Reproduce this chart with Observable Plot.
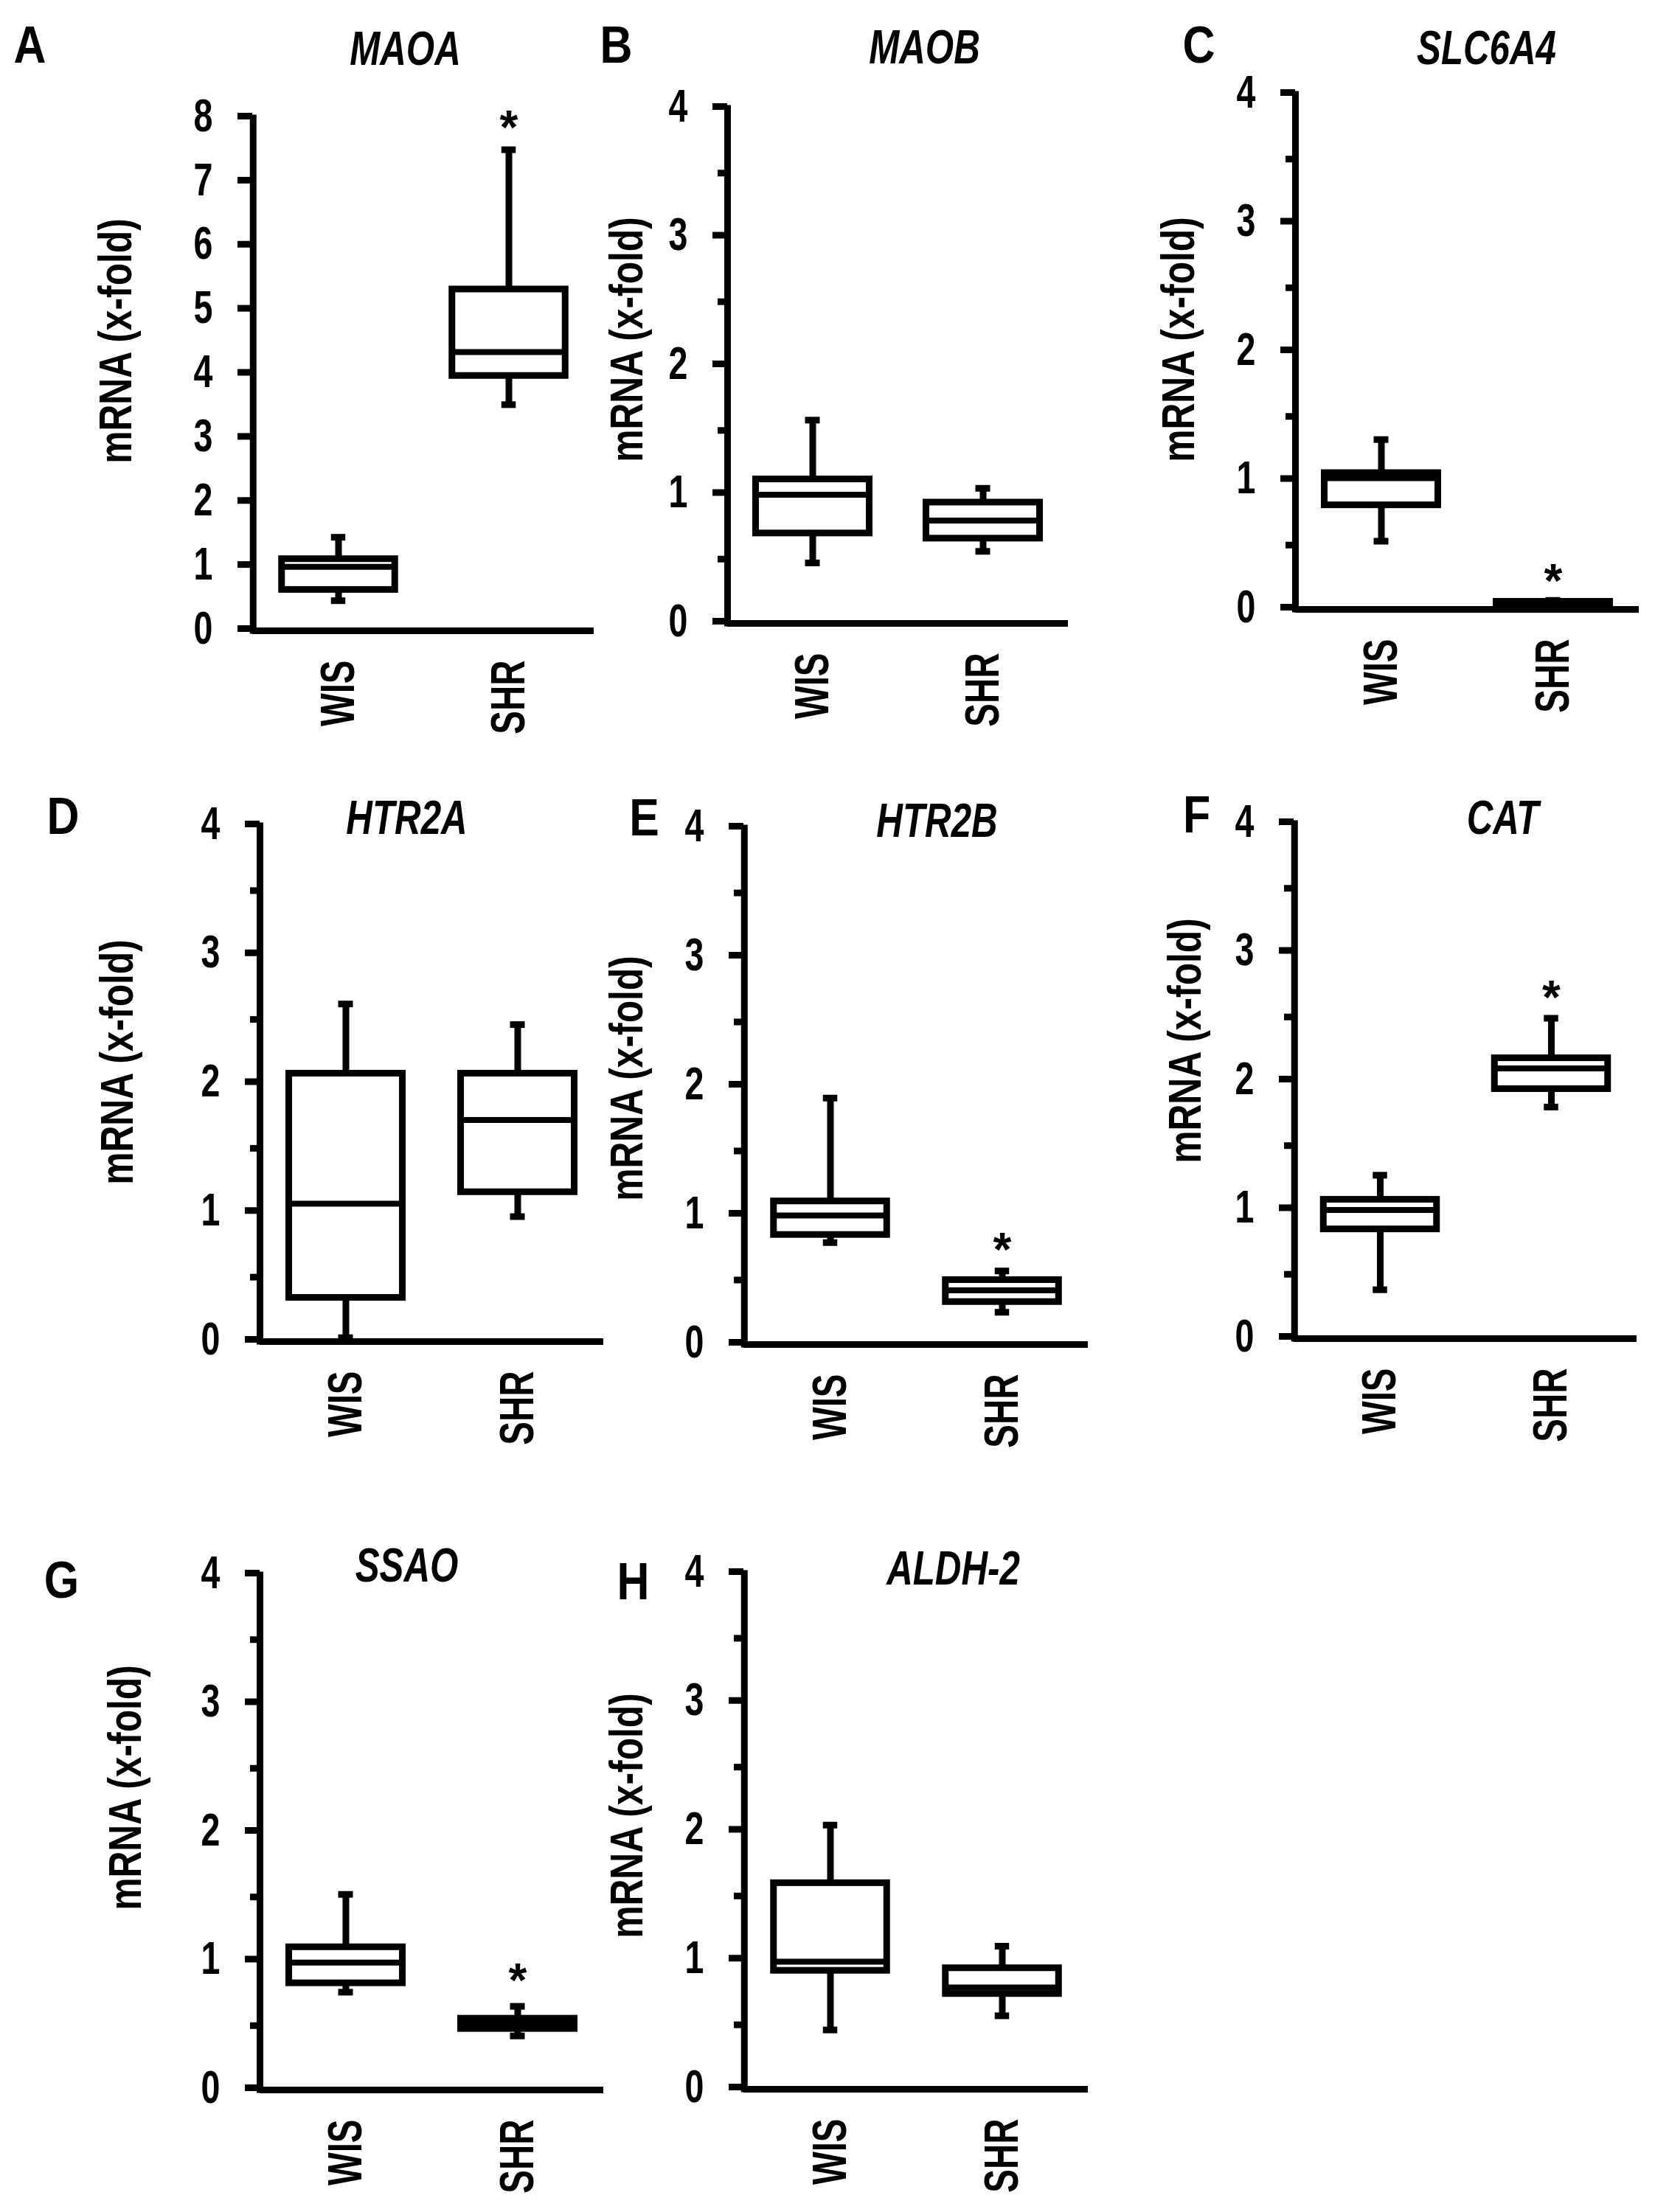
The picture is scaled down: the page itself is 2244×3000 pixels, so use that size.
<!DOCTYPE html>
<html>
<head>
<meta charset="utf-8">
<script src="https://cdn.jsdelivr.net/npm/d3@7"></script>
<script src="https://cdn.jsdelivr.net/npm/@observablehq/plot@0.6"></script>
<style>
html, body { margin: 0; padding: 0; background: #fff; }
#fig { position: relative; width: 2244px; height: 3000px; background: #fff; overflow: hidden; }
#fig > div { position: absolute; }
</style>
</head>
<body>
<div id="fig"></div>
<script>
// ---- data ----
const genes   = ["MAOA", "MAOB", "SLC6A4", "HTR2A", "HTR2B", "CAT", "SSAO", "ALDH-2"];
const letters = ["A", "B", "C", "D", "E", "F", "G", "H"];
const groups  = ["WIS", "SHR"];
const yMax    = [8, 4, 4, 4, 4, 4, 4, 4];
const yTitle  = "mRNA (x-fold)";

const wisMin = [0.47, 0.47, 0.53, 0.03, 0.79, 0.38, 0.76, 0.46];
const wisQ1  = [0.64, 0.70, 0.81, 0.34, 0.85, 0.85, 0.83, 0.92];
const wisMed = [1.00, 1.00, 1.02, 1.07, 1.00, 1.00, 0.99, 0.99];
const wisQ3  = [1.12, 1.12, 1.06, 2.08, 1.11, 1.08, 1.11, 1.60];
const wisMax = [1.46, 1.58, 1.32, 2.62, 1.91, 1.27, 1.52, 2.05];

const shrMin = [3.53, 0.56, 0.03, 0.97, 0.25, 1.80, 0.42, 0.57];
const shrQ1  = [3.98, 0.66, 0.04, 1.16, 0.33, 1.94, 0.475, 0.74];
const shrMed = [4.35, 0.80, 0.05, 1.72, 0.42, 2.10, 0.52, 0.79];
const shrQ3  = [5.33, 0.94, 0.06, 2.08, 0.50, 2.18, 0.555, 0.94];
const shrMax = [7.51, 1.05, 0.07, 2.46, 0.57, 2.49, 0.65, 1.11];

// significance star (value level at which the "*" sits, SHR group)
const starAt = [8.03, null, 0.31, null, 0.82, 2.74, 0.94, null];

// ---- layout (pixels in the page) ----
const layout = [
  {L: 342,  T: 160,  B: 855,  R: 805,  title: [549, 67],    letter: [40, 62],    ylab: [157, 462]},
  {L: 986,  T: 147,  B: 845,  R: 1448, title: [1253, 65],   letter: [835, 62],   ylab: [850, 460]},
  {L: 1756, T: 128,  B: 826,  R: 2222, title: [2015, 66],   letter: [1625, 62],  ylab: [1598, 460]},
  {L: 352,  T: 1120, B: 1819, R: 818,  title: [551, 1110],  letter: [85, 1108],  ylab: [159, 1440]},
  {L: 1008, T: 1123, B: 1823, R: 1475, title: [1270, 1114], letter: [873, 1110], ylab: [850, 1462]},
  {L: 1754, T: 1117, B: 1815, R: 2219, title: [2037, 1110], letter: [1622, 1106],ylab: [1607, 1411]},
  {L: 352,  T: 2136, B: 2834, R: 818,  title: [551, 2124],  letter: [83, 2144],  ylab: [170, 2424]},
  {L: 1008, T: 2134, B: 2833, R: 1475, title: [1292, 2128], letter: [858, 2146], ylab: [850, 2462]}
];

const ML = 340, MT = 140, MR = 30, MB = 220;
const FONT = "'Liberation Sans', Arial, Helvetica, sans-serif";
const LW = 9;

// horizontal condensing of the (narrow) lettering in the figure
const squeeze = {ytick: 0.74, xtick: 0.73, ylab: 0.79, title: 0.77, letter: 0.87};

const fig = document.getElementById("fig");

genes.forEach((gene, i) => {
  const p = layout[i];
  const fw = p.R - p.L, fh = p.B - p.T, bw = fw / groups.length;
  const boxInset = (bw - 154) / 2, capInset = bw / 2 - 10;
  const rows = [
    {group: groups[0], min: wisMin[i], q1: wisQ1[i], med: wisMed[i], q3: wisQ3[i], max: wisMax[i]},
    {group: groups[1], min: shrMin[i], q1: shrQ1[i], med: shrMed[i], q3: shrQ3[i], max: shrMax[i]}
  ];
  const stars = starAt[i] == null ? [] : [{group: groups[1], y: starAt[i]}];
  const majors = d3.range(0, yMax[i] + 0.001, 1);
  const minors = yMax[i] > 4 ? [] : d3.range(0.5, yMax[i], 1);

  const svg = Plot.plot({
    width: fw + ML + MR,
    height: fh + MT + MB,
    marginLeft: ML, marginRight: MR, marginTop: MT, marginBottom: MB,
    style: {background: "none", overflow: "visible", maxWidth: "none", fontFamily: FONT, color: "black"},
    x: {type: "band", domain: groups, padding: 0},
    y: {type: "linear", domain: [0, yMax[i]]},
    marks: [
      // axes
      Plot.axisY({ticks: majors, tickSize: 20, tickPadding: 34, strokeWidth: LW, fontSize: 63, fontWeight: "bold", fontFamily: FONT, tickFormat: d => String(d), label: null, dy: -3}),
      ...(minors.length ? [Plot.axisY({ticks: minors, tickSize: 13, strokeWidth: LW, tickFormat: () => "", label: null})] : []),
      Plot.axisX({tickSize: 0, tickPadding: 40, tickRotate: -90, fontSize: 65, fontWeight: "bold", fontFamily: FONT, label: null}),
      Plot.ruleX([groups[0]], {x: d => d, dx: -bw / 2, strokeWidth: LW, strokeLinecap: "square"}),
      Plot.ruleY([0], {strokeWidth: LW}),
      // whiskers
      Plot.ruleX(rows, {x: "group", y1: "q3", y2: "max", strokeWidth: LW}),
      Plot.ruleX(rows, {x: "group", y1: "min", y2: "q1", strokeWidth: LW}),
      Plot.tickY(rows, {x: "group", y: "max", strokeWidth: LW, insetLeft: capInset, insetRight: capInset}),
      Plot.tickY(rows, {x: "group", y: "min", strokeWidth: LW, insetLeft: capInset, insetRight: capInset}),
      // boxes
      Plot.barY(rows, {x: "group", y1: "q1", y2: "q3", fill: "white", stroke: "black", strokeWidth: LW, insetLeft: boxInset, insetRight: boxInset}),
      Plot.tickY(rows, {x: "group", y: "med", strokeWidth: 8, insetLeft: boxInset, insetRight: boxInset}),
      // significance
      Plot.text(stars, {x: "group", y: "y", text: () => "*", fontSize: 64, fontWeight: "bold", fontFamily: FONT, lineAnchor: "middle", dy: 17}),
      // titles and labels
      Plot.text([gene], {text: d => d, frameAnchor: "top-left", dx: p.title[0] - p.L, dy: p.title[1] - p.T, textAnchor: "middle", lineAnchor: "middle", fontSize: 64, fontWeight: "bold", fontStyle: "italic", fontFamily: FONT}),
      Plot.text([letters[i]], {text: d => d, frameAnchor: "top-left", dx: p.letter[0] - p.L, dy: p.letter[1] - p.T, textAnchor: "middle", lineAnchor: "middle", fontSize: 70, fontWeight: "bold", fontFamily: FONT}),
      Plot.text([yTitle], {text: d => d, frameAnchor: "top-left", dx: p.ylab[0] - p.L, dy: p.ylab[1] - p.T, rotate: -90, textAnchor: "middle", lineAnchor: "middle", fontSize: 63, fontWeight: "bold", fontFamily: FONT})
    ]
  });

  const div = document.createElement("div");
  div.style.left = (p.L - ML) + "px";
  div.style.top = (p.T - MT) + "px";
  div.appendChild(svg);
  fig.appendChild(div);

  // condense lettering along its reading direction
  svg.querySelectorAll("text").forEach(t => {
    const s = t.textContent;
    if (!s || s === "*") return;
    const g = t.closest("g[aria-label]");
    const role = g ? g.getAttribute("aria-label") : "";
    let k = null;
    if (role === "y-axis tick label") k = squeeze.ytick;
    else if (role === "x-axis tick label") k = squeeze.xtick;
    else if (s === yTitle) k = squeeze.ylab;
    else if (genes.includes(s)) k = squeeze.title;
    else if (letters.includes(s)) k = squeeze.letter;
    if (k == null) return;
    const w = t.getComputedTextLength();
    if (w > 0) {
      t.setAttribute("textLength", (w * k).toFixed(1));
      t.setAttribute("lengthAdjust", "spacingAndGlyphs");
    }
  });
});
</script>
</body>
</html>
